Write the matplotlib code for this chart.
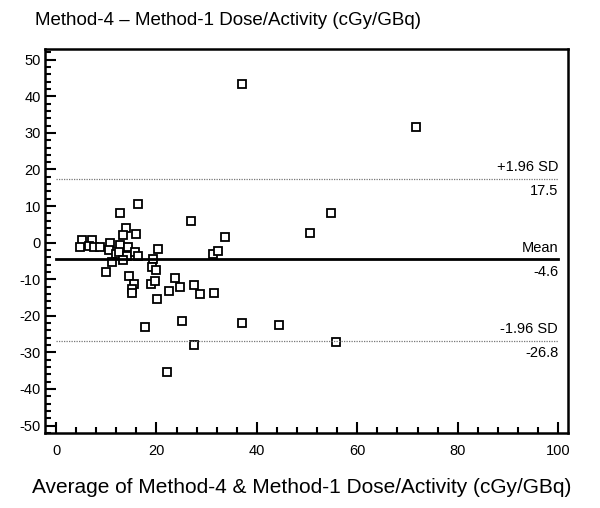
import numpy as np
import matplotlib
matplotlib.use("Agg")
import matplotlib.pyplot as plt
from matplotlib.ticker import MultipleLocator

plt.rcParams['font.family'] = ['Liberation Sans', 'DejaVu Sans']
plt.rcParams['axes.unicode_minus'] = False

# average of the two methods (x) and difference (y)
avg = [37.1, 71.7, 16.4, 12.7, 26.8, 54.8, 50.6, 14.0, 13.3, 15.9,
       33.6, 5.1, 7.1, 4.8, 6.6, 7.6, 8.7, 10.8, 10.6, 12.7,
       14.3, 12.0, 12.6, 14.1, 15.7, 16.4, 20.4, 31.3, 32.3, 11.2,
       13.3, 19.3, 19.1, 19.9, 10.0, 14.5, 15.6, 15.2, 15.2, 18.9,
       19.8, 20.2, 22.4, 23.6, 24.6, 27.4, 28.7, 31.4, 17.7, 25.0,
       37.1, 44.4, 27.4, 22.0, 55.8]
diff = [43.4, 31.5, 10.5, 8.1, 6.0, 8.0, 2.7, 3.9, 2.1, 2.4,
        1.6, 0.6, 0.8, -1.2, -0.8, -1.1, -1.3, -0.1, -2.1, -0.7,
        -1.1, -3.0, -2.6, -3.7, -2.7, -3.6, -1.7, -3.1, -2.2, -5.2,
        -4.8, -4.6, -6.6, -7.6, -8.1, -9.1, -11.2, -12.6, -13.7, -11.2,
        -10.4, -15.3, -13.2, -9.8, -12.1, -11.6, -14.0, -13.7, -23.0, -21.5,
        -21.9, -22.5, -28.0, -35.4, -27.2]

mean_diff = -4.6
upper_sd = 17.5
lower_sd = -26.8

fig = plt.figure(figsize=(6, 5.08), dpi=100)
ax = fig.add_axes([0.075, 0.148, 0.872, 0.756])

ax.plot(avg, diff, linestyle='none', marker='s', markersize=5.8,
        markerfacecolor='white', markeredgecolor='black', markeredgewidth=1.3)

ax.plot([0, 100], [mean_diff, mean_diff], color='black', lw=2)
ax.plot([0, 100], [upper_sd, upper_sd], color='#777777', lw=0.9, ls=(0, (1, 1)))
ax.plot([0, 100], [lower_sd, lower_sd], color='#777777', lw=0.9, ls=(0, (1, 1)))

# labels at the right end of each line
for yv, top, bot in [(upper_sd, '+1.96 SD', '17.5'),
                     (mean_diff, 'Mean', '-4.6'),
                     (lower_sd, '-1.96 SD', '-26.8')]:
    ax.annotate(top, (100, yv), xytext=(0, 3), textcoords='offset points',
                ha='right', va='bottom', fontsize=10.5)
    ax.annotate(bot, (100, yv), xytext=(0, -4), textcoords='offset points',
                ha='right', va='top', fontsize=10.5)

ax.set_xlim(-2.2, 102)
ax.set_ylim(-52, 53)
ax.xaxis.set_major_locator(MultipleLocator(20))
ax.xaxis.set_minor_locator(MultipleLocator(4))
ax.yaxis.set_major_locator(MultipleLocator(10))
ax.yaxis.set_minor_locator(MultipleLocator(2))
ax.tick_params(which='both', direction='in', labelsize=10.5, width=1.5)
ax.tick_params(which='major', length=8)
ax.tick_params(which='minor', length=4)
ax.tick_params(axis='x', pad=8)
ax.tick_params(axis='y', pad=3)
for s in ax.spines.values():
    s.set_linewidth(1.8)

fig.text(0.058, 0.96, 'Method-4 \u2013 Method-1 Dose/Activity (cGy/GBq)',
         fontsize=13.5, ha='left', va='center')
fig.text(0.502, 0.04, 'Average of Method-4 & Method-1 Dose/Activity (cGy/GBq)',
         fontsize=15, ha='center', va='center')

fig.savefig('out.png', dpi=100)
